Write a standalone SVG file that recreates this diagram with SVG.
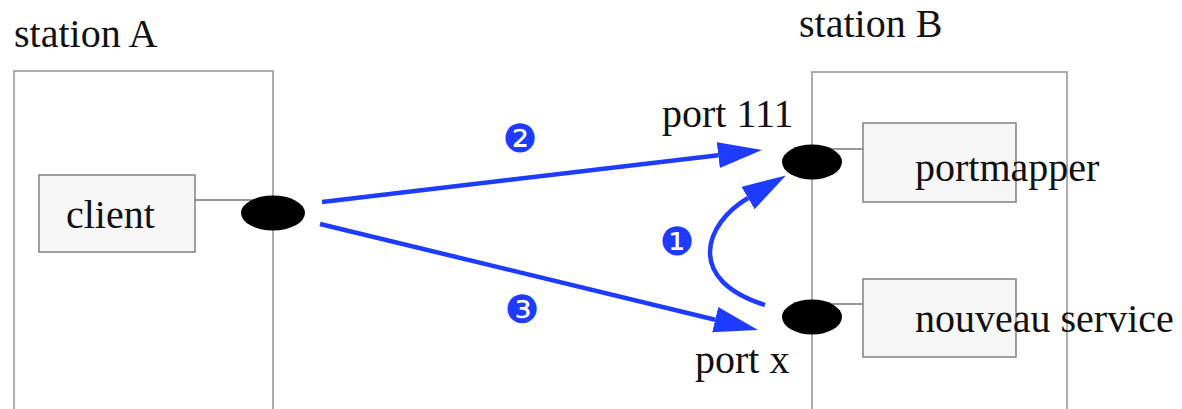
<svg xmlns="http://www.w3.org/2000/svg" width="1182" height="409" viewBox="0 0 1182 409">
<style>
.station{fill:#ffffff;stroke:#999999;stroke-width:1.6}
.proc{fill:#f7f7f7;stroke:#888888;stroke-width:1.6}
.link{stroke:#777777;stroke-width:1.4;fill:none}
.port{fill:#000000}
.t{font-family:"Liberation Serif","Times New Roman",serif;font-size:40px;fill:#111111}
.arrow{stroke:#1e3cff;stroke-width:4.5;fill:none;marker-end:url(#head)}
.num{font-family:"DejaVu Sans",sans-serif;font-size:39px;fill:#1e3cff;text-anchor:middle}
</style>
<defs>
<marker id="head" markerUnits="userSpaceOnUse" markerWidth="46" markerHeight="28" refX="0" refY="13" orient="auto">
<path d="M0,0 L44,13 L0,26 z" fill="#1e3cff"/>
</marker>
</defs>
<g id="stationA">
<rect class="station" x="14" y="71" width="259" height="345"/>
<text class="t" x="14" y="47">station A</text>
</g>
<g id="stationB">
<rect class="station" x="812" y="72" width="255" height="345"/>
<text class="t" x="799" y="37">station B</text>
</g>
<g id="client">
<rect class="proc" x="39" y="175" width="156" height="77"/>
<text class="t" x="66" y="228">client</text>
</g>
<g id="portmapper">
<rect class="proc" x="863" y="123" width="153" height="79"/>
<text class="t" x="915" y="181">portmapper</text>
</g>
<g id="nouveau">
<rect class="proc" x="863" y="279" width="153" height="78"/>
<text class="t" x="915" y="332">nouveau service</text>
</g>
<g id="links">
<line class="link" x1="195" y1="200" x2="255" y2="200"/>
<line class="link" x1="830" y1="149" x2="863" y2="149"/>
<line class="link" x1="830" y1="304" x2="863" y2="304"/>
</g>
<g id="portClient">
<ellipse class="port" cx="273" cy="213" rx="32" ry="17.5"/>
</g>
<g id="port111">
<ellipse class="port" cx="812" cy="162" rx="30" ry="17.5"/>
<text class="t" x="662" y="127">port 111</text>
</g>
<g id="portx">
<ellipse class="port" cx="812" cy="317" rx="30" ry="17.5"/>
<text class="t" x="695" y="373">port x</text>
</g>
<g id="connectors">
<line class="arrow" x1="322" y1="202" x2="718.3" y2="155.2"/>
<line class="arrow" x1="320" y1="224" x2="715.2" y2="319.7"/>
<path class="arrow" d="M765,305 C685,280 704,224 748,198"/>
<text class="num" x="520" y="152">❷</text>
<text class="num" x="677" y="255">❶</text>
<text class="num" x="522" y="323">❸</text>
</g>
</svg>
